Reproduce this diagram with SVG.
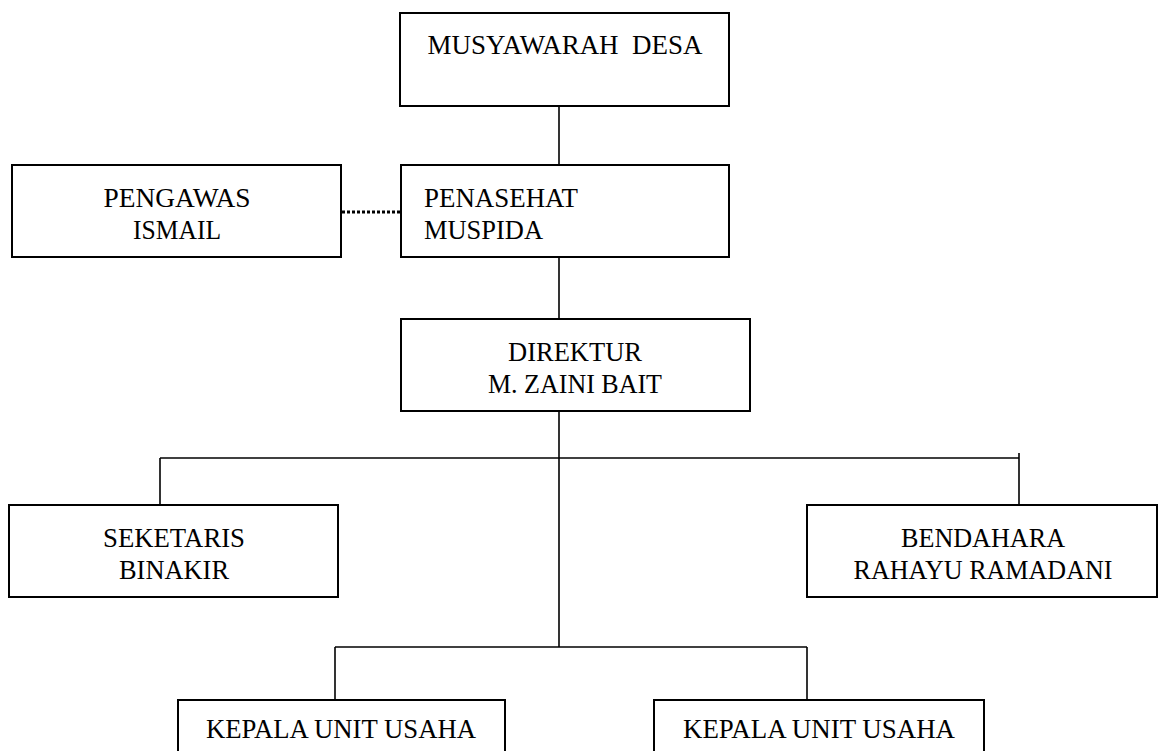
<svg xmlns="http://www.w3.org/2000/svg" width="1165" height="751" viewBox="0 0 1165 751">
<style>
.box{fill:#fff;stroke:#000;stroke-width:2}
.t{font-family:"Liberation Serif","Times New Roman",serif;font-size:28px;fill:#000}
.c{text-anchor:middle}
.ln{fill:none;stroke:#000;stroke-width:1.6}
.dot{fill:none;stroke:#000;stroke-width:3;stroke-dasharray:3 2}
</style>
<rect width="1165" height="751" fill="#fff"/>
<g id="connectors">
<line class="ln" x1="559" y1="106" x2="559" y2="165"/>
<line class="ln" x1="559" y1="257" x2="559" y2="319"/>
<line class="ln" x1="559" y1="411" x2="559" y2="647"/>
<line class="ln" x1="160" y1="458" x2="1019" y2="458"/>
<line class="ln" x1="160" y1="458" x2="160" y2="509"/>
<line class="ln" x1="1019" y1="453" x2="1019" y2="505"/>
<line class="ln" x1="335" y1="647" x2="807" y2="647"/>
<line class="ln" x1="335" y1="647" x2="335" y2="700"/>
<line class="ln" x1="807" y1="647" x2="807" y2="700"/>
<line class="dot" x1="342" y1="212" x2="400" y2="212"/>
</g>
<g id="musyawarah">
<rect class="box" x="400" y="13" width="329" height="93"/>
<text class="t c" x="565" y="54" xml:space="preserve" textLength="275" lengthAdjust="spacingAndGlyphs">MUSYAWARAH  DESA</text>
</g>
<g id="pengawas">
<rect class="box" x="12" y="165" width="329" height="92"/>
<text class="t c" x="177" y="207" textLength="147" lengthAdjust="spacingAndGlyphs">PENGAWAS</text>
<text class="t c" x="177" y="239" textLength="88" lengthAdjust="spacingAndGlyphs">ISMAIL</text>
</g>
<g id="penasehat">
<rect class="box" x="401" y="165" width="328" height="92"/>
<text class="t" x="424" y="207" textLength="154" lengthAdjust="spacingAndGlyphs">PENASEHAT</text>
<text class="t" x="424" y="239" textLength="119" lengthAdjust="spacingAndGlyphs">MUSPIDA</text>
</g>
<g id="direktur">
<rect class="box" x="401" y="319" width="349" height="92"/>
<text class="t c" x="575" y="361" textLength="134" lengthAdjust="spacingAndGlyphs">DIREKTUR</text>
<text class="t c" x="575" y="393" textLength="174" lengthAdjust="spacingAndGlyphs">M. ZAINI BAIT</text>
</g>
<g id="seketaris">
<rect class="box" x="9" y="505" width="329" height="92"/>
<text class="t c" x="174" y="547" textLength="142" lengthAdjust="spacingAndGlyphs">SEKETARIS</text>
<text class="t c" x="174" y="579" textLength="110" lengthAdjust="spacingAndGlyphs">BINAKIR</text>
</g>
<g id="bendahara">
<rect class="box" x="807" y="505" width="350" height="92"/>
<text class="t c" x="983" y="547" textLength="164" lengthAdjust="spacingAndGlyphs">BENDAHARA</text>
<text class="t c" x="983" y="579" textLength="259" lengthAdjust="spacingAndGlyphs">RAHAYU RAMADANI</text>
</g>
<g id="kepala1">
<rect class="box" x="178" y="700" width="327" height="70"/>
<text class="t c" x="341" y="738" textLength="270" lengthAdjust="spacingAndGlyphs">KEPALA UNIT USAHA</text>
</g>
<g id="kepala2">
<rect class="box" x="654" y="700" width="330" height="70"/>
<text class="t c" x="819" y="738" textLength="272" lengthAdjust="spacingAndGlyphs">KEPALA UNIT USAHA</text>
</g>
</svg>
